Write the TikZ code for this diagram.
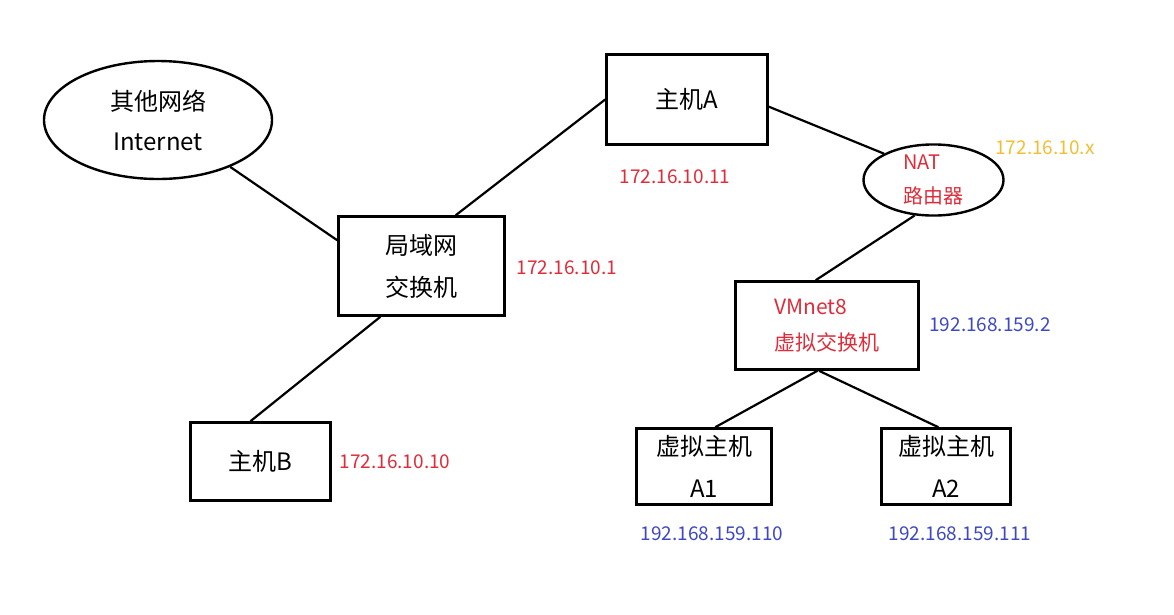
\documentclass[tikz,border=0pt]{standalone}
\usepackage{fontspec}
\setmainfont{Noto Sans CJK SC}
\usetikzlibrary{shapes.geometric}

\definecolor{ipred}{RGB}{222,44,58}
\definecolor{ipblue}{RGB}{62,72,192}
\definecolor{ipyellow}{RGB}{242,190,52}

\tikzset{
    box/.style={draw, line width=2.6pt, inner sep=0pt, align=center,
        font=\fontsize{24}{42}\selectfont},
    cloud/.style={draw, ellipse, line width=2.4pt, inner sep=0pt, align=center,
        font=\fontsize{24}{40}\selectfont},
    link/.style={line width=2.2pt},
    iplabel/.style={inner sep=0pt, font=\fontsize{19}{19}\selectfont}
}

\begin{document}
\begin{tikzpicture}[x=1pt, y=-1pt]

    \useasboundingbox (0,0) rectangle (1174,614);

    % Outside network and LAN
    \node[cloud, minimum width=228, minimum height=118] (inet) at (158,120) {其他网络\\Internet};
    \node[box, minimum width=166, minimum height=99] (lan) at (421.5,266) {局域网\\交换机};
    \node[box, minimum width=161, minimum height=90] (hostA) at (687,99.5) {主机A};
    \node[box, minimum width=140, minimum height=78] (hostB) at (260.5,461.5) {主机B};

    % NAT side inside host A
    \node[cloud, ipred, draw=black, align=left, minimum width=140, minimum height=71,
        font=\fontsize{20}{34}\selectfont] (nat) at (933.5,180) {NAT\\路由器};
    \node[box, ipred, draw=black, align=left, minimum width=183, minimum height=88,
        font=\fontsize{21}{36}\selectfont] (vm) at (827,325.5) {VMnet8\\虚拟交换机};
    \node[box, minimum width=135, minimum height=76] (vmA) at (704,466.5) {虚拟主机\\A1};
    \node[box, minimum width=129, minimum height=76] (vmB) at (946,466.5) {虚拟主机\\A2};

    % Links
    \foreach \from/\to in {inet.-33/lan.163, lan.56/hostA.west, hostA.-5/nat.152,
        nat.-118/vm.104, lan.-129/hostB.104, vm.-102/vmA.74, vm.-100/vmB.101}
        \draw[link] (\from) -- (\to);

    % Addresses
    \foreach \name/\pos/\addr/\col in {
        ipA/{(675,177)}/172.16.10.11/ipred,
        ipLan/{(567,268)}/172.16.10.1/ipred,
        ipB/{(395,462)}/172.16.10.10/ipred,
        ipNat/{(1045,148)}/172.16.10.x/ipyellow,
        ipVm/{(990,325)}/192.168.159.2/ipblue,
        ipVmA/{(712,534)}/192.168.159.110/ipblue,
        ipVmB/{(960,534)}/192.168.159.111/ipblue}
        \node[iplabel, text=\col] (\name) at \pos {\addr};

\end{tikzpicture}
\end{document}
